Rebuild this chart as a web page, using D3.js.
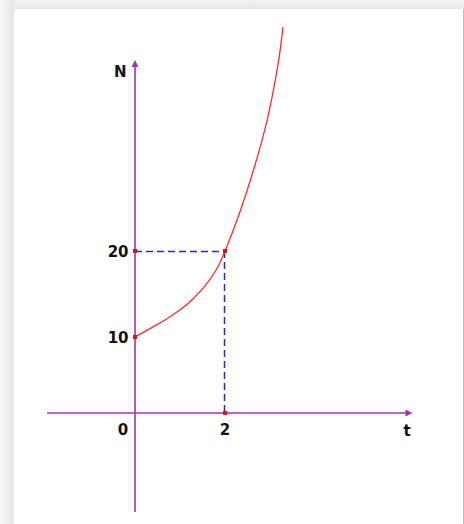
<!DOCTYPE html>
<html><head><meta charset="utf-8">
<script src="https://cdn.jsdelivr.net/npm/d3@7"></script>
<style>html,body{margin:0;padding:0;background:#fff;}svg{display:block;}</style>
</head><body>
<script>
// Data
const curveT = [0, 0.333, 0.778, 1.222, 1.593, 1.851, 2, 2.222, 2.444, 2.667, 2.844, 2.956, 3.111, 3.222, 3.289];
const curveN = [10, 10.97, 12.35, 14.1, 16.2, 18.25, 20, 22.96, 26.28, 30.0, 33.3, 35.65, 39.7, 43.25, 46.05];
const yTicks = [10, 20];
const xTicks = [0, 2];
const markT = [0, 0, 2, 2];
const markN = [10, 20, 20, 0];
const guideT = 2, guideN = 20;

const W = 464, H = 524;
const svg = d3.select("body").append("svg").attr("width", W).attr("height", H);

// background / panel
const defs = svg.append("defs");
const gl = defs.append("linearGradient").attr("id","gl").attr("x1","0").attr("x2","1").attr("y1","0").attr("y2","0");
gl.append("stop").attr("offset","0").attr("stop-color","#f7f7f7");
gl.append("stop").attr("offset","1").attr("stop-color","#e4e4e4");
const gt = defs.append("linearGradient").attr("id","gt").attr("x1","0").attr("x2","0").attr("y1","0").attr("y2","1");
gt.append("stop").attr("offset","0").attr("stop-color","#f4f4f4");
gt.append("stop").attr("offset","1").attr("stop-color","#e6e6e6");
svg.append("rect").attr("width", W).attr("height", 9).attr("fill","url(#gt)");
svg.append("rect").attr("y", 0).attr("width", 14).attr("height", H).attr("fill","url(#gl)");
svg.append("rect").attr("x",14).attr("y",9).attr("width",449).attr("height",H-9).attr("fill","#fff");
svg.append("line").attr("x1",463.5).attr("x2",463.5).attr("y1",9).attr("y2",H).attr("stroke","#bdbdbd");

// scales
const x = d3.scaleLinear().domain([0, 2]).range([135, 225]);
const y = d3.scaleLinear().domain([0, 10, 20]).range([413, 337, 251]);

const axisColor = "#9f34ab";
// axes
svg.append("line").attr("x1", x(0)).attr("x2", x(0)).attr("y1", 512).attr("y2", 64)
  .attr("stroke", axisColor).attr("stroke-width", 1.6);
svg.append("line").attr("x1", 47).attr("x2", 408).attr("y1", y(0)).attr("y2", y(0))
  .attr("stroke", axisColor).attr("stroke-width", 1.6);
// arrowheads
svg.append("path").attr("d", `M${x(0)},60 L${x(0)-3.5},67 L${x(0)+3.5},67 Z`).attr("fill", axisColor);
svg.append("path").attr("d", `M412.5,${y(0)} L405.5,${y(0)-3.5} L405.5,${y(0)+3.5} Z`).attr("fill", axisColor);

// dashed guides
const dashColor = "#2a2aa8";
svg.append("line").attr("x1", x(0)).attr("x2", x(guideT)).attr("y1", y(guideN) + 0.5).attr("y2", y(guideN) + 0.5)
  .attr("stroke", dashColor).attr("stroke-width", 1.5).attr("stroke-dasharray", "7,4");
svg.append("line").attr("x1", x(guideT) - 0.5).attr("x2", x(guideT) - 0.5).attr("y1", y(guideN)).attr("y2", y(0))
  .attr("stroke", dashColor).attr("stroke-width", 1.5).attr("stroke-dasharray", "7,4");

// curve
const pts = curveT.map((t, i) => [t, curveN[i]]);
svg.append("path").datum(pts)
  .attr("d", d3.line().x(d => x(d[0])).y(d => y(d[1])).curve(d3.curveMonotoneX))
  .attr("fill", "none").attr("stroke", "#ff2a2a").attr("stroke-width", 1.3);

// markers
svg.selectAll("rect.mk").data(markT.map((t, i) => [t, markN[i]])).enter().append("rect")
  .attr("class","mk").attr("x", d => x(d[0]) - 2).attr("y", d => y(d[1]) - 2)
  .attr("width", 4).attr("height", 4).attr("fill", "#e0101a");

// labels
const font = "'DejaVu Sans', sans-serif";
function lab(sel) {
  return sel.attr("font-family", font).attr("font-weight", "bold").attr("font-size", 15).attr("fill", "#111");
}
lab(svg.selectAll("text.yt").data(yTicks).enter().append("text")
  .attr("x", 128.5).attr("y", d => y(d) + 5.5).attr("text-anchor", "end")).text(d => d);
lab(svg.selectAll("text.xt").data(xTicks).enter().append("text")
  .attr("x", d => d === 0 ? 123 : x(d)).attr("y", 435).attr("text-anchor", "middle")).text(d => d);
lab(svg.append("text").attr("x", 120.3).attr("y", 76.5).attr("text-anchor","middle")).text("N");
lab(svg.append("text").attr("x", 407).attr("y", 436).attr("text-anchor","middle")).text("t");
</script>
</body></html>
